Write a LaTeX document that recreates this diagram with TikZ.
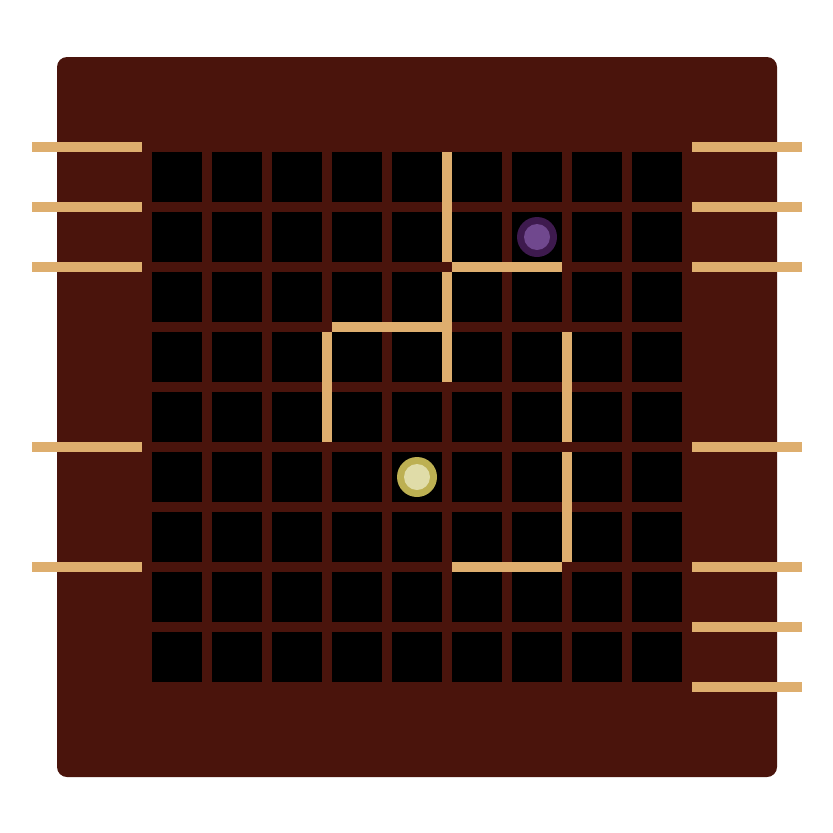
\documentclass[tikz,border=0pt]{standalone}
\begin{document}
\begin{tikzpicture}[x=1pt,y=-1pt]
\definecolor{boardc}{RGB}{74,20,12}
\definecolor{tanc}{RGB}{222,174,110}
\definecolor{purpo}{RGB}{62,26,78}
\definecolor{purpi}{RGB}{112,72,142}
\definecolor{yelo}{RGB}{189,176,82}
\definecolor{yeli}{RGB}{224,220,168}
\tikzset{cellsq/.style={fill=black},wallbar/.style={fill=tanc},marker/.style={fill=tanc}}
\useasboundingbox (0,0) rectangle (833,833);
\fill[boardc, rounded corners=10pt] (57,57) rectangle (777,777);
\foreach \i in {0,...,8}{
  \foreach \j in {0,...,8}{
    \fill[cellsq] ({152+60*\i},{152+60*\j}) rectangle ++(50,50);
  }
}
% walls
\fill[wallbar] (442,152) rectangle (452,262);
\fill[wallbar] (442,272) rectangle (452,382);
\fill[wallbar] (452,262) rectangle (562,272);
\fill[wallbar] (332,322) rectangle (442,332);
\fill[wallbar] (322,332) rectangle (332,442);
\fill[wallbar] (562,332) rectangle (572,442);
\fill[wallbar] (562,452) rectangle (572,562);
\fill[wallbar] (452,562) rectangle (562,572);
% side markers
\foreach \y in {147,207,267,447,567}{
  \fill[marker] (32,{\y-5}) rectangle (142,{\y+5});
}
\foreach \y in {147,207,267,447,567,627,687}{
  \fill[marker] (692,{\y-5}) rectangle (802,{\y+5});
}
% pawns
\fill[purpo] (537,237) circle (20);
\fill[purpi] (537,237) circle (13);
\fill[yelo] (417,477) circle (20);
\fill[yeli] (417,477) circle (13);
\end{tikzpicture}
\end{document}
